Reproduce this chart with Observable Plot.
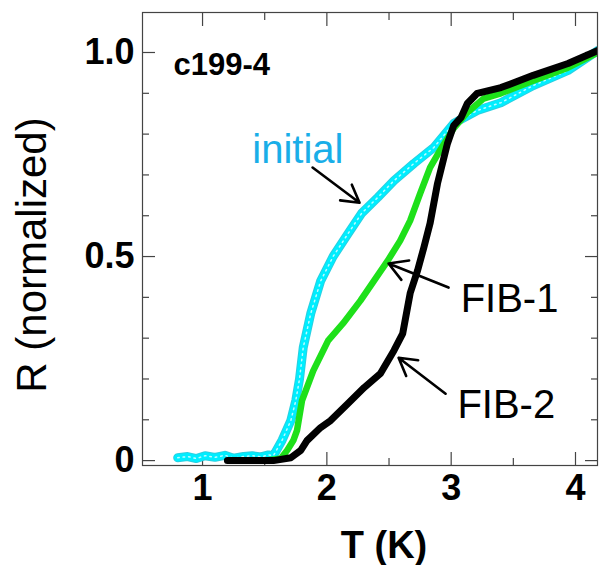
<!DOCTYPE html>
<html><head><meta charset="utf-8">
<script src="https://cdn.jsdelivr.net/npm/d3@7"></script>
<script src="https://cdn.jsdelivr.net/npm/@observablehq/plot@0.6"></script>
<style>body{margin:0;background:#fff} #chart svg{display:block}</style>
</head><body><div id="chart"></div>
<script>
// ---- data ----
const initialT = [0.80,0.88,0.95,1.02,1.10,1.18,1.25,1.33,1.40,1.47,1.53,1.57,1.64,1.71,1.75,1.78,1.81,1.87,1.95,2.05,2.17,2.28,2.41,2.54,2.70,2.86,3.02,3.06,3.21,3.40,3.66,3.94,4.18];
const initialR = [0.007,0.010,0.005,0.012,0.008,0.013,0.006,0.010,0.012,0.009,0.014,0.012,0.05,0.098,0.147,0.20,0.277,0.36,0.44,0.50,0.556,0.606,0.645,0.686,0.728,0.767,0.826,0.833,0.858,0.877,0.919,0.956,1.005];

const fib1T = [1.50,1.63,1.68,1.73,1.76,1.80,1.89,2.01,2.13,2.27,2.38,2.49,2.59,2.67,2.75,2.83,2.91,3.02,3.13,3.26,3.40,3.66,3.94,4.18];
const fib1R = [0.0,0.005,0.025,0.049,0.074,0.147,0.22,0.294,0.336,0.392,0.441,0.49,0.539,0.588,0.654,0.718,0.76,0.814,0.853,0.887,0.90,0.931,0.963,1.0];

const fib2T = [1.20,1.43,1.57,1.71,1.79,1.84,1.95,2.03,2.17,2.30,2.43,2.54,2.61,2.67,2.73,2.78,2.83,2.89,2.97,3.02,3.08,3.13,3.21,3.40,3.66,3.94,4.18];
const fib2R = [0.0,0.0,0.0,0.007,0.025,0.049,0.081,0.098,0.14,0.179,0.213,0.27,0.311,0.41,0.466,0.522,0.581,0.679,0.777,0.821,0.841,0.875,0.90,0.914,0.944,0.973,1.005];

const xMajorTicks = [1, 2, 3, 4];
const xMinorTicks = [1.5, 2.5, 3.5];
const yMajorTicks = [0, 0.5, 1.0];
const yMinorTicks = [0.1, 0.2, 0.3, 0.4, 0.6, 0.7, 0.8, 0.9];

const sampleLabel = "c199-4";
const labelNames = ["initial", "FIB-1", "FIB-2"];
const labelT = [1.40, 3.076, 3.05];
const labelR = [0.730, 0.363, 0.105];
const arrowT1 = [1.885, 2.979, 2.955];
const arrowR1 = [0.718, 0.424, 0.164];
const arrowT2 = [2.263, 2.496, 2.577];
const arrowR2 = [0.632, 0.483, 0.252];

const xTitle = "T (K)";
const yTitle = "R (normalized)";

// ---- build tables ----
const toRows = (T, R) => T.map((t, i) => ({T: t, R: R[i]}));
const initial = toRows(initialT, initialR);
const fib1 = toRows(fib1T, fib1R);
const fib2 = toRows(fib2T, fib2R);
const labels = labelNames.map((n, i) => ({name: n, T: labelT[i], R: labelR[i]}));
const arrows = labelNames.map((n, i) => ({x1: arrowT1[i], y1: arrowR1[i], x2: arrowT2[i], y2: arrowR2[i]}));

const FONT = "'Liberation Sans', Arial, Helvetica, sans-serif";
const frameColor = "#444";

const tickOpts = (ticks, size) => ({ticks, tickSize: -size, tickFormat: () => "", label: null, stroke: frameColor, strokeWidth: 1.2});

const chart = Plot.plot({
  width: 599,
  height: 565,
  marginLeft: 142,
  marginRight: 2,
  marginTop: 12,
  marginBottom: 100,
  style: {fontFamily: FONT, background: "#fff", color: "#000", overflow: "visible"},
  x: {domain: [0.517, 4.177]},
  y: {domain: [-0.012, 1.098]},
  marks: [
    // inward ticks on all four sides
    Plot.axisX({anchor: "bottom", ...tickOpts(xMajorTicks, 13)}),
    Plot.axisX({anchor: "bottom", ...tickOpts(xMinorTicks, 7)}),
    Plot.axisX({anchor: "top", ...tickOpts(xMajorTicks, 13)}),
    Plot.axisX({anchor: "top", ...tickOpts(xMinorTicks, 7)}),
    Plot.axisY({anchor: "left", ...tickOpts(yMajorTicks, 13)}),
    Plot.axisY({anchor: "left", ...tickOpts(yMinorTicks, 7)}),
    Plot.axisY({anchor: "right", ...tickOpts(yMajorTicks, 13)}),
    Plot.axisY({anchor: "right", ...tickOpts(yMinorTicks, 7)}),
    // tick labels
    Plot.axisX({anchor: "bottom", ticks: xMajorTicks, tickSize: 0, tickPadding: 9, label: null,
      fontSize: 36, fontWeight: "bold", tickFormat: d => String(d)}),
    Plot.axisY({anchor: "left", ticks: yMajorTicks, tickSize: 0, tickPadding: 8, label: null,
      fontSize: 36, fontWeight: "bold", tickFormat: d => d === 0 ? "0" : d.toFixed(1)}),
    // curves (dense open-marker look: colored band with light speckles)
    Plot.line(initial, {x: "T", y: "R", stroke: "#2ccfe0", strokeWidth: 9, strokeLinejoin: "round", clip: true}),
    Plot.line(initial, {x: "T", y: "R", stroke: "#00eeff", strokeWidth: 7, strokeLinejoin: "round", clip: true}),
    Plot.line(initial, {x: "T", y: "R", stroke: "#fff", strokeWidth: 1.5, strokeDasharray: "1.5,4", strokeOpacity: 0.75, clip: true}),
    Plot.line(fib1, {x: "T", y: "R", stroke: "#1ee01a", strokeWidth: 6.5, strokeLinejoin: "round", clip: true}),
    Plot.line(fib2, {x: "T", y: "R", stroke: "#000", strokeWidth: 7, strokeLinejoin: "round", clip: true}),
    Plot.frame({stroke: frameColor, strokeWidth: 1.2}),
    // annotations
    Plot.arrow(arrows, {x1: "x1", y1: "y1", x2: "x2", y2: "y2", stroke: "#000", strokeWidth: 2.6, headLength: 12, headAngle: 60}),
    Plot.text(labels, {x: "T", y: "R", text: "name", textAnchor: "start", lineAnchor: "bottom",
      fontSize: 40, fill: d => d.name === "initial" ? "#19aee8" : "#000"}),
    Plot.text([sampleLabel], {x: () => 0.767, y: () => 0.944, text: d => d, textAnchor: "start", lineAnchor: "bottom",
      fontSize: 31, fontWeight: "bold", letterSpacing: "-1px"}),
    // axis titles
    Plot.text([xTitle], {frameAnchor: "bottom", text: d => d, dx: 14, dy: 92, textAnchor: "middle", lineAnchor: "bottom", fontSize: 38, fontWeight: "bold"}),
    Plot.text([yTitle], {frameAnchor: "left", text: d => d, dx: -97, dy: 16, rotate: -90, textAnchor: "middle", lineAnchor: "bottom", fontSize: 42})
  ]
});
document.getElementById("chart").append(chart);
</script>
</body></html>
